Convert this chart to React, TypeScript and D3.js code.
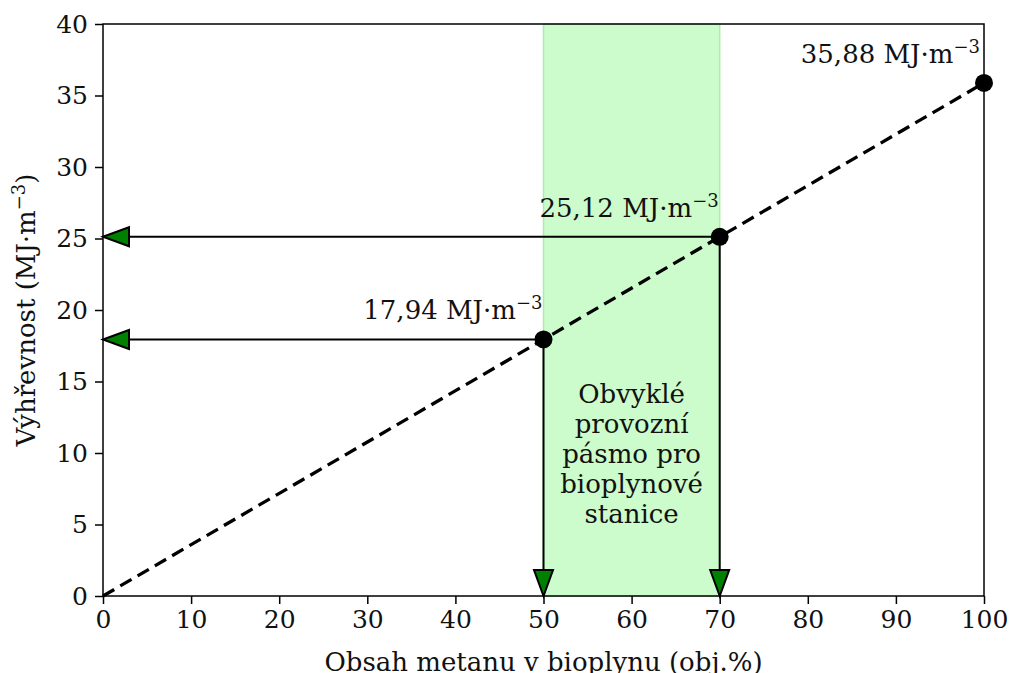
import React, { useEffect, useRef } from 'react';
import { select, scaleLinear, axisLeft, axisBottom, line } from 'd3';

// methane share (%) and heating value (MJ/m3)
const methane = [0, 50, 70, 100];
const heating = [0, 17.94, 25.12, 35.88];
const pointLabels = ['', '17,94', '25,12', '35,88'];
const band = [50, 70];
const bandText = ['Obvyklé', 'provozní', 'pásmo pro', 'bioplynové', 'stanice'];
const xTicks = [0, 10, 20, 30, 40, 50, 60, 70, 80, 90, 100];
const yTicks = [0, 5, 10, 15, 20, 25, 30, 35, 40];

const W = 1010;
const H = 673;
const margin = { top: 24, right: 26, bottom: 77, left: 103 };
const FONT = 'DejaVu Serif';

const App = () => {
  const ref = useRef<SVGSVGElement>(null);

  useEffect(() => {
    const svg = select(ref.current);
    svg.selectAll('*').remove();
    const iw = W - margin.left - margin.right;
    const ih = H - margin.top - margin.bottom;

    const x = scaleLinear().domain([0, 100]).range([0, iw]);
    const y = scaleLinear().domain([0, 40]).range([ih, 0]);

    const g = svg.append('g').attr('transform', `translate(${margin.left},${margin.top})`);

    // operating band
    g.append('rect')
      .attr('x', x(band[0]))
      .attr('y', 0)
      .attr('width', x(band[1]) - x(band[0]))
      .attr('height', ih)
      .attr('fill', '#ccfbcc')
      .attr('stroke', '#a8f0a8')
      .attr('stroke-width', 1.5);

    const cx = (x(band[0]) + x(band[1])) / 2;
    const txt = g.append('text')
      .attr('text-anchor', 'middle')
      .style('font-family', FONT)
      .style('font-size', '26px')
      .attr('fill', '#111');
    bandText.forEach((t, i) => {
      txt.append('tspan')
        .attr('x', cx)
        .attr('y', 403 - margin.top + i * 30)
        .text(t);
    });

    // arrows
    const arrowsH = [1, 2];
    const tri = (l: number, w: number) => `M0,0 L${l},${-w / 2} L${l},${w / 2} Z`;
    arrowsH.forEach(i => {
      const yy = y(heating[i]);
      g.append('line')
        .attr('x1', x(methane[i])).attr('x2', x(0) + 26)
        .attr('y1', yy).attr('y2', yy)
        .attr('stroke', 'black').attr('stroke-width', 2);
      g.append('path')
        .attr('d', tri(26, 19))
        .attr('transform', `translate(${x(0)},${yy})`)
        .attr('fill', 'green').attr('stroke', 'black').attr('stroke-width', 2);
      g.append('line')
        .attr('x1', x(methane[i])).attr('x2', x(methane[i]))
        .attr('y1', yy).attr('y2', y(0) - 26)
        .attr('stroke', 'black').attr('stroke-width', 2);
      g.append('path')
        .attr('d', tri(26, 19))
        .attr('transform', `translate(${x(methane[i])},${y(0)}) rotate(-90)`)
        .attr('fill', 'green').attr('stroke', 'black').attr('stroke-width', 2);
    });

    // dashed line
    const pts = methane.map((m, i) => [m, heating[i]] as [number, number]);
    g.append('path')
      .datum([pts[0], pts[3]])
      .attr('d', line<[number, number]>().x(d => x(d[0])).y(d => y(d[1])))
      .attr('fill', 'none')
      .attr('stroke', 'black')
      .attr('stroke-width', 3.3)
      .attr('stroke-dasharray', '13,7');

    g.selectAll('circle.pt')
      .data(pts.slice(1))
      .enter()
      .append('circle')
      .attr('cx', d => x(d[0]))
      .attr('cy', d => y(d[1]))
      .attr('r', 9)
      .attr('fill', 'black');

    // point labels
    [1, 2, 3].forEach(i => {
      const t = g.append('text')
        .attr('x', x(methane[i]) - (i === 3 ? 4 : 1))
        .attr('y', y(heating[i]) - 20)
        .attr('text-anchor', 'end')
        .style('font-family', FONT)
        .style('font-size', '26px')
        .attr('fill', '#111');
      t.append('tspan').text(`${pointLabels[i]} MJ·m`);
      t.append('tspan').attr('dy', -10).style('font-size', '18px').text('−3');
    });

    // axes
    const xa = g.append('g').attr('transform', `translate(0,${ih})`)
      .call(axisBottom(x).tickValues(xTicks).tickSize(8).tickPadding(6));
    const ya = g.append('g')
      .call(axisLeft(y).tickValues(yTicks).tickSize(8).tickPadding(7));
    [xa, ya].forEach(a => {
      a.select('.domain').remove();
      a.selectAll('line').attr('stroke', 'black').attr('stroke-width', 1.5);
      a.selectAll('text')
        .style('font-family', FONT)
        .style('font-size', '25px')
        .attr('fill', '#111');
    });

    g.append('rect')
      .attr('width', iw).attr('height', ih)
      .attr('fill', 'none').attr('stroke', 'black').attr('stroke-width', 1.5);

    // titles
    svg.append('text')
      .attr('x', margin.left + iw / 2)
      .attr('y', 671)
      .attr('text-anchor', 'middle')
      .style('font-family', FONT)
      .style('font-size', '26px')
      .attr('fill', '#111')
      .text('Obsah metanu v bioplynu (obj.%)');

    const yt = svg.append('text')
      .attr('transform', `translate(35,${margin.top + ih / 2}) rotate(-90)`)
      .attr('text-anchor', 'middle')
      .style('font-family', FONT)
      .style('font-size', '26px')
      .attr('fill', '#111');
    yt.append('tspan').text('Výhřevnost (MJ·m');
    yt.append('tspan').attr('dy', -10).style('font-size', '18px').text('−3');
    yt.append('tspan').attr('dy', 10).text(')');
  }, []);

  return (
    <svg ref={ref} width={W} height={H}
      style={{ position: 'absolute', left: 0, top: 0, background: 'white' }} />
  );
};

export default App;
